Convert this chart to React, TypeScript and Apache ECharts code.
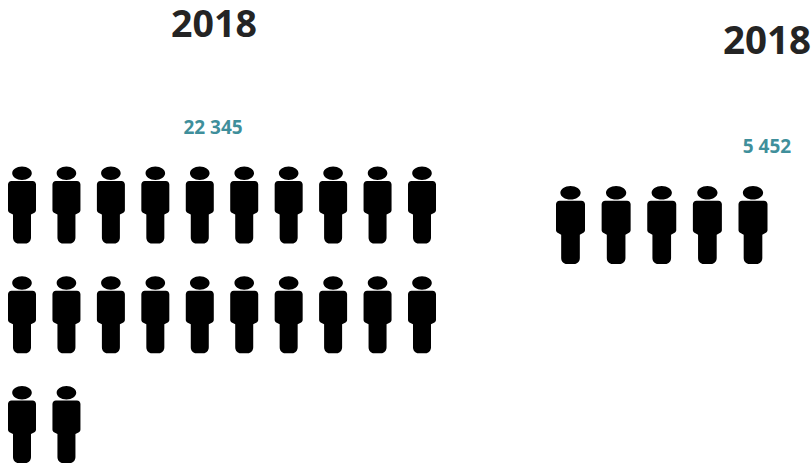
import React, { useEffect, useRef } from "react";
import * as echarts from "echarts";

// One figure stands for 1 000 people.
const yearLabels = ["2018", "2018"];
const totals = [22345, 5452];
const totalLabels = ["22 345", "5 452"];
const unitSize = 1000;
const iconsPerRow = [10, 5];

const personIcon =
  "path://M14 0C19.4 0 23.8 3 23.8 6.7C23.8 10.4 19.4 13.4 14 13.4C8.6 13.4 4.2 10.4 4.2 6.7C4.2 3 8.6 0 14 0Z" +
  "M3.5 14.5L24.5 14.5C26.6 14.5 28 16.2 28 18L28 43.5C28 45 27.3 45.8 26 46.5L23 48L23 71C23 74.4 20.6 77 17.5 77L10.5 77C7.4 77 5 74.4 5 71L5 48L2 46.5C0.7 45.8 0 45 0 43.5L0 18C0 16.2 1.4 14.5 3.5 14.5Z";

function iconGrid(total: number, perRow: number): number[][] {
  const count = Math.floor(total / unitSize);
  const cells: number[][] = [];
  for (let i = 0; i < count; i++) {
    cells.push([i % perRow, Math.floor(i / perRow)]);
  }
  return cells;
}

const yearFont = (fontSize: number) => ({
  fontFamily: "Open Sans",
  fontWeight: "bold" as const,
  fontSize,
  color: "#242424",
});
const valueFont = {
  fontFamily: "Open Sans",
  fontWeight: "bold" as const,
  fontSize: 19,
  color: "#3f8f9b",
};

export default function App() {
  const ref = useRef<HTMLDivElement>(null);

  useEffect(() => {
    const chart = echarts.init(ref.current!, undefined, { renderer: "svg" });

    const hiddenAxis = (gridIndex: number, max: number, inverse = false) => ({
      type: "value" as const,
      gridIndex,
      min: 0,
      max,
      inverse,
      show: false,
    });

    chart.setOption({
      animation: false,
      backgroundColor: "#ffffff",
      title: [
        { text: yearLabels[0], left: 214, top: 22.5, textAlign: "center", textVerticalAlign: "middle", textStyle: yearFont(37.5), padding: 0 },
        { text: yearLabels[1], left: 767, top: 38.5, textAlign: "center", textVerticalAlign: "middle", textStyle: yearFont(38.5), padding: 0 },
        { text: totalLabels[0], left: 213, top: 127, textAlign: "center", textVerticalAlign: "middle", textStyle: valueFont, padding: 0 },
        { text: totalLabels[1], left: 767, top: 145.5, textAlign: "center", textVerticalAlign: "middle", textStyle: valueFont, padding: 0 },
      ],
      grid: [
        { left: 22, top: 205, width: 400, height: 219.5 },
        { left: 570.5, top: 225, width: 182.5, height: 220 },
      ],
      xAxis: [hiddenAxis(0, iconsPerRow[0] - 1), hiddenAxis(1, iconsPerRow[1] - 1)],
      yAxis: [hiddenAxis(0, 2, true), hiddenAxis(1, 2, true)],
      series: [
        {
          type: "scatter",
          xAxisIndex: 0,
          yAxisIndex: 0,
          symbol: personIcon,
          symbolSize: [28, 77],
          symbolKeepAspect: false,
          itemStyle: { color: "#000000", opacity: 1 },
          data: iconGrid(totals[0], iconsPerRow[0]),
        },
        {
          type: "scatter",
          xAxisIndex: 1,
          yAxisIndex: 1,
          symbol: personIcon,
          symbolSize: [29, 78],
          symbolKeepAspect: false,
          itemStyle: { color: "#000000", opacity: 1 },
          data: iconGrid(totals[1], iconsPerRow[1]),
        },
      ],
    });

    return () => chart.dispose();
  }, []);

  return (
    <div
      ref={ref}
      style={{ position: "fixed", left: 0, top: 0, width: 812, height: 466 }}
    />
  );
}
